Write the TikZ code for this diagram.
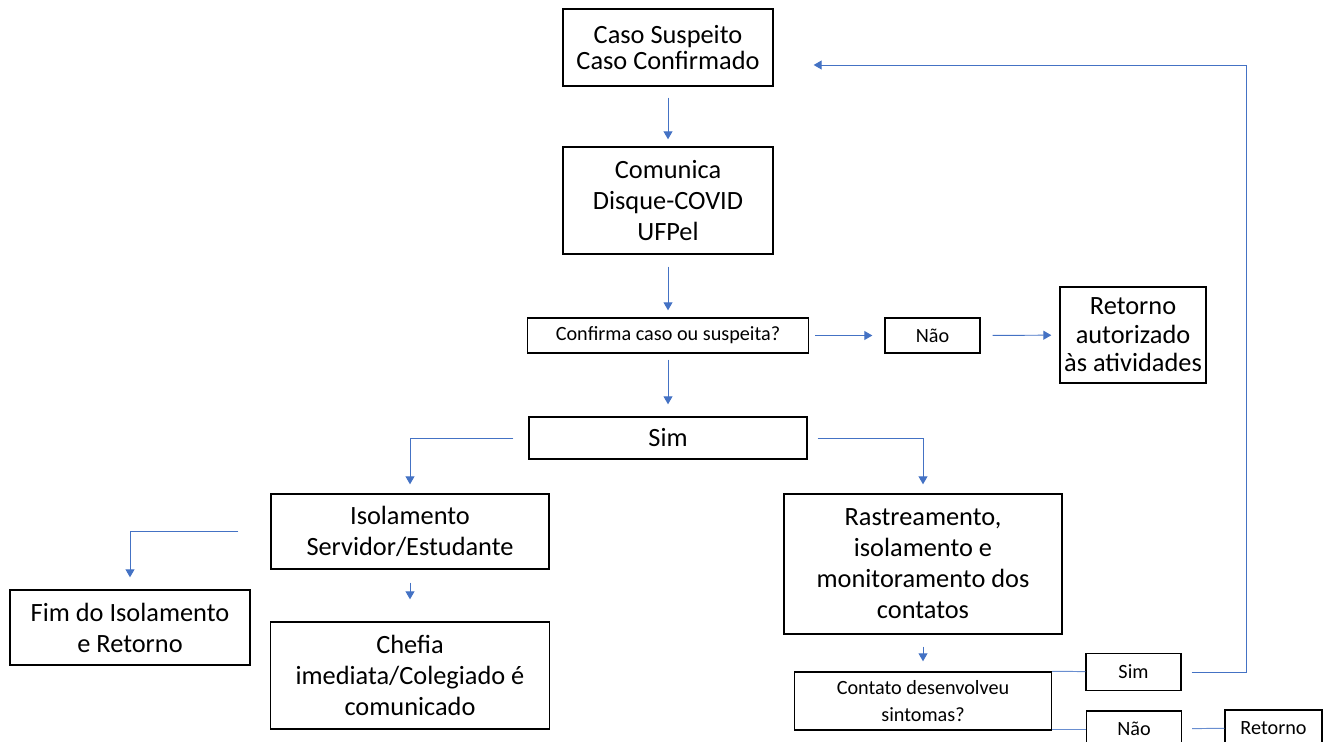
\documentclass[tikz,border=0pt]{standalone}
\usepackage{fontspec}
\setmainfont{Carlito}
\usepackage{xcolor}
\usepackage{tikz}
\usetikzlibrary{arrows.meta}
\definecolor{azul}{HTML}{4472C4}

\begin{document}
\begin{tikzpicture}[x=0.02cm,y=-0.02cm,
  caixa/.style={draw,line width=0.8pt,align=center,inner sep=0pt,font=\fontsize{15}{17.6}\selectfont},
  caixap/.style={caixa,font=\fontsize{11.5}{15}\selectfont},
  seta/.style={azul,line width=0.55pt,-{Triangle[length=0.16cm,width=0.18cm]}},
  linha/.style={azul!80,line width=0.55pt}]
\useasboundingbox (0,0) rectangle (1331,742);
% caixas
\node[caixa,minimum width=4.2cm,minimum height=1.54cm,font=\fontsize{15}{14.7}\selectfont] (caso) at (668,47.5) {Caso Suspeito\\Caso Confirmado};
\node[caixa,minimum width=4.2cm,minimum height=2.14cm] (comunica) at (668,200.5) {Comunica\\Disque-COVID\\UFPel};
\node[caixap,minimum width=5.62cm,minimum height=0.7cm] (confirma) at (668,335.5) {Confirma caso ou suspeita?};
\node[caixap,minimum width=1.9cm,minimum height=0.7cm] (nao) at (932.5,335.5) {Não};
\node[caixa,minimum width=2.92cm,minimum height=1.92cm,font=\fontsize{15}{16.2}\selectfont] (retorno) at (1133,335) {Retorno\\autorizado\\às atividades};
\node[caixa,minimum width=5.56cm,minimum height=0.84cm] (sim) at (668,438) {Sim};
\node[caixa,minimum width=5.56cm,minimum height=1.5cm] (isol) at (410,531.5) {Isolamento\\Servidor/Estudante};
\node[caixa,minimum width=5.58cm,minimum height=2.14cm] (chefia) at (410,675.5) {Chefia\\imediata/Colegiado é\\comunicado};
\node[caixa,minimum width=4.8cm,minimum height=1.5cm] (fim) at (130,627.5) {Fim do Isolamento\\e Retorno};
\node[caixa,minimum width=5.56cm,minimum height=2.8cm] (rastr) at (923,564) {Rastreamento,\\isolamento e\\monitoramento dos\\contatos};
\node[caixap,minimum width=5.14cm,minimum height=1.16cm] (contato) at (923,701) {Contato desenvolveu\\sintomas?};
\node[caixap,minimum width=1.9cm,minimum height=0.74cm] (simb) at (1133.5,672) {Sim};
\node[caixap,minimum width=1.9cm,minimum height=0.72cm] (naob) at (1134,729) {Não};
\node[caixap,minimum width=1.94cm,minimum height=0.72cm] (retornob) at (1273.5,728) {Retorno};
\coordinate (volta) at (1246,65);
% ligacoes
\draw[seta,shorten <=0.22cm,shorten >=0.14cm] (caso) -- (comunica);
\draw[seta,shorten <=0.24cm,shorten >=0.14cm] (comunica) -- (confirma);
\draw[seta,shorten <=0.12cm,shorten >=0.24cm] (confirma) -- (nao);
\draw[seta,shorten <=0.24cm,shorten >=0.16cm] (nao) -- (retorno);
\draw[seta,shorten <=0.12cm,shorten >=0.24cm] (confirma) -- (sim);
\draw[seta,shorten <=0.3cm,shorten >=0.18cm] (sim.west) -| (isol.north);
\draw[seta,shorten <=0.2cm,shorten >=0.18cm] (sim.east) -| (rastr.north);
\draw[seta,shorten <=0.26cm,shorten >=0.44cm] (isol) -- (chefia);
\draw[seta,shorten <=0.64cm,shorten >=0.24cm] (isol.west) -| (fim.north);
\draw[seta,shorten <=0.24cm,shorten >=0.2cm] (rastr) -- (contato);
\draw[linha] (contato.north east) -- (simb);
\draw[linha] (contato.east |- naob) -- (naob);
\draw[linha,shorten <=0.2cm] (naob) -- (retornob);
\draw[seta,shorten <=0.2cm,shorten >=0.8cm] (simb.east) -| (volta) -- (caso.east |- volta);
\end{tikzpicture}
\end{document}
